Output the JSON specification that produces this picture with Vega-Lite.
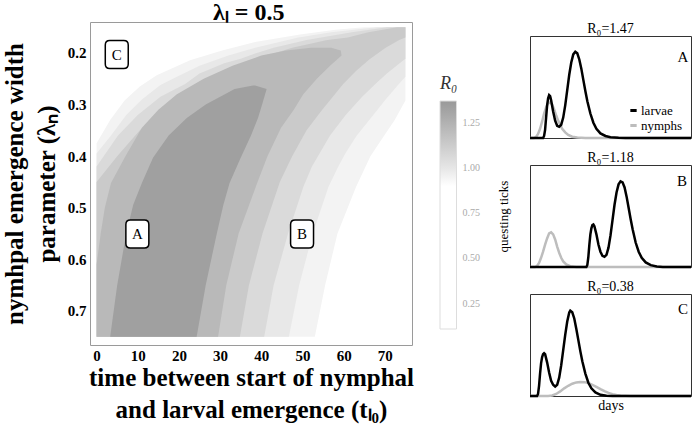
{
  "$schema": "https://vega.github.io/schema/vega-lite/v6.json",
  "autosize": {"type": "pad"},
  "padding": {"left": 1, "top": 0, "right": 2, "bottom": 2},
  "config": {
    "font": "Liberation Serif",
    "axis": {"grid": false, "labelFont": "Liberation Serif", "titleFont": "Liberation Serif"},
    "legend": {"labelFont": "Liberation Serif", "titleFont": "Liberation Serif"},
    "title": {"font": "Liberation Serif"},
    "view": {"stroke": null}
  },
  "title": {"text": "λₗ = 0.5", "anchor": "start", "align": "center", "dx": 247, "fontSize": 24, "fontWeight": "bold", "color": "black", "offset": -3},
  "datasets": {
    "bands": [
      {"level": 2, "lam": 0.15, "t": 65, "t2": 75},
      {"level": 2, "lam": 0.155, "t": 58, "t2": 75},
      {"level": 2, "lam": 0.164, "t": 49.4, "t2": 75},
      {"level": 2, "lam": 0.179, "t": 38.5, "t2": 75},
      {"level": 2, "lam": 0.195, "t": 30.5, "t2": 75},
      {"level": 2, "lam": 0.214, "t": 22.7, "t2": 75},
      {"level": 2, "lam": 0.243, "t": 14.6, "t2": 75},
      {"level": 2, "lam": 0.265, "t": 10.5, "t2": 75},
      {"level": 2, "lam": 0.292, "t": 6.8, "t2": 75},
      {"level": 2, "lam": 0.33, "t": 3.3, "t2": 72.4},
      {"level": 2, "lam": 0.375, "t": 0, "t2": 68.6},
      {"level": 2, "lam": 0.4, "t": 0, "t2": 66.5},
      {"level": 2, "lam": 0.46, "t": 0, "t2": 63},
      {"level": 2, "lam": 0.55, "t": 0, "t2": 58.5},
      {"level": 2, "lam": 0.65, "t": 0, "t2": 55.5},
      {"level": 2, "lam": 0.75, "t": 0, "t2": 53},
      {"level": 3, "lam": 0.15, "t": 68, "t2": 75},
      {"level": 3, "lam": 0.16, "t": 57, "t2": 75},
      {"level": 3, "lam": 0.17, "t": 49, "t2": 75},
      {"level": 3, "lam": 0.19, "t": 38.5, "t2": 75},
      {"level": 3, "lam": 0.205, "t": 32, "t2": 75},
      {"level": 3, "lam": 0.225, "t": 25, "t2": 75},
      {"level": 3, "lam": 0.246, "t": 19.5, "t2": 75},
      {"level": 3, "lam": 0.262, "t": 15.5, "t2": 73.2},
      {"level": 3, "lam": 0.29, "t": 11, "t2": 70.2},
      {"level": 3, "lam": 0.32, "t": 7.2, "t2": 67.2},
      {"level": 3, "lam": 0.36, "t": 3.5, "t2": 63.2},
      {"level": 3, "lam": 0.395, "t": 0, "t2": 60.4},
      {"level": 3, "lam": 0.42, "t": 0, "t2": 58.7},
      {"level": 3, "lam": 0.46, "t": 0, "t2": 56.3},
      {"level": 3, "lam": 0.55, "t": 0, "t2": 52.5},
      {"level": 3, "lam": 0.65, "t": 0, "t2": 49.2},
      {"level": 3, "lam": 0.75, "t": 0, "t2": 46.7},
      {"level": 4, "lam": 0.15, "t": 70.5, "t2": 75},
      {"level": 4, "lam": 0.16, "t": 62, "t2": 75},
      {"level": 4, "lam": 0.175, "t": 51, "t2": 75},
      {"level": 4, "lam": 0.19, "t": 43, "t2": 75},
      {"level": 4, "lam": 0.201, "t": 38.5, "t2": 75},
      {"level": 4, "lam": 0.211, "t": 35, "t2": 75},
      {"level": 4, "lam": 0.22, "t": 31, "t2": 73.6},
      {"level": 4, "lam": 0.24, "t": 25, "t2": 70.5},
      {"level": 4, "lam": 0.26, "t": 21.5, "t2": 67.7},
      {"level": 4, "lam": 0.285, "t": 15.5, "t2": 64.5},
      {"level": 4, "lam": 0.32, "t": 10, "t2": 60.5},
      {"level": 4, "lam": 0.36, "t": 5.2, "t2": 56.7},
      {"level": 4, "lam": 0.42, "t": 0, "t2": 52.3},
      {"level": 4, "lam": 0.46, "t": 0, "t2": 50.2},
      {"level": 4, "lam": 0.55, "t": 0, "t2": 46.5},
      {"level": 4, "lam": 0.65, "t": 0, "t2": 43},
      {"level": 4, "lam": 0.75, "t": 0, "t2": 40.7},
      {"level": 5, "lam": 0.15, "t": 73, "t2": 75},
      {"level": 5, "lam": 0.16, "t": 66, "t2": 75},
      {"level": 5, "lam": 0.17, "t": 61, "t2": 75},
      {"level": 5, "lam": 0.175, "t": 56, "t2": 73.5},
      {"level": 5, "lam": 0.19, "t": 47.5, "t2": 70.2},
      {"level": 5, "lam": 0.212, "t": 38.5, "t2": 66.3},
      {"level": 5, "lam": 0.235, "t": 31, "t2": 63},
      {"level": 5, "lam": 0.26, "t": 25, "t2": 59.9},
      {"level": 5, "lam": 0.31, "t": 16, "t2": 54.8},
      {"level": 5, "lam": 0.35, "t": 10.5, "t2": 51},
      {"level": 5, "lam": 0.4, "t": 5, "t2": 47.5},
      {"level": 5, "lam": 0.45, "t": 0, "t2": 44.5},
      {"level": 5, "lam": 0.55, "t": 0, "t2": 40.3},
      {"level": 5, "lam": 0.65, "t": 0, "t2": 37},
      {"level": 5, "lam": 0.75, "t": 0, "t2": 34.8},
      {"level": 6, "lam": 0.19, "t": 52, "t2": 57},
      {"level": 6, "lam": 0.195, "t": 46, "t2": 59.3},
      {"level": 6, "lam": 0.205, "t": 40, "t2": 59.5},
      {"level": 6, "lam": 0.225, "t": 33, "t2": 56.7},
      {"level": 6, "lam": 0.25, "t": 26, "t2": 53.5},
      {"level": 6, "lam": 0.28, "t": 19.5, "t2": 50.2},
      {"level": 6, "lam": 0.31, "t": 15, "t2": 47.9},
      {"level": 6, "lam": 0.345, "t": 11, "t2": 44.8},
      {"level": 6, "lam": 0.4, "t": 7, "t2": 41.5},
      {"level": 6, "lam": 0.452, "t": 3.5, "t2": 39},
      {"level": 6, "lam": 0.5, "t": 2, "t2": 36.8},
      {"level": 6, "lam": 0.55, "t": 1, "t2": 34.5},
      {"level": 6, "lam": 0.61, "t": 0, "t2": 32.7},
      {"level": 6, "lam": 0.65, "t": 0, "t2": 31.5},
      {"level": 6, "lam": 0.75, "t": 0, "t2": 29.5},
      {"level": 7, "lam": 0.263, "t": 38, "t2": 38.5},
      {"level": 7, "lam": 0.27, "t": 33.5, "t2": 41.3},
      {"level": 7, "lam": 0.278, "t": 31.6, "t2": 41},
      {"level": 7, "lam": 0.3, "t": 26.5, "t2": 40.2},
      {"level": 7, "lam": 0.326, "t": 21.9, "t2": 39.2},
      {"level": 7, "lam": 0.36, "t": 17.5, "t2": 37.5},
      {"level": 7, "lam": 0.403, "t": 13.7, "t2": 35},
      {"level": 7, "lam": 0.452, "t": 11, "t2": 32.3},
      {"level": 7, "lam": 0.494, "t": 8.9, "t2": 30.8},
      {"level": 7, "lam": 0.55, "t": 7.2, "t2": 29.2},
      {"level": 7, "lam": 0.65, "t": 5, "t2": 26.5},
      {"level": 7, "lam": 0.75, "t": 3.3, "t2": 24.3}
    ],
    "boxes": [
      {"label": "A", "t": 9.9, "lam": 0.551},
      {"label": "B", "t": 49.9, "lam": 0.551},
      {"label": "C", "t": 4.9, "lam": 0.203}
    ],
    "legendvals": [
      {"R0": 0.11, "t": 0, "lam": 0.75},
      {"R0": 1.37, "t": 0, "lam": 0.75}
    ],
    "letters": [
      {"panel": "A", "letter": "A", "day": 152, "ticks": 0.79},
      {"panel": "B", "letter": "B", "day": 151, "ticks": 0.84},
      {"panel": "C", "letter": "C", "day": 152, "ticks": 0.85}
    ],
    "curves": [
      {"panel": "A", "series": "nymphs", "day": 0, "ticks": 0},
      {"panel": "A", "series": "nymphs", "day": 4, "ticks": 0},
      {"panel": "A", "series": "nymphs", "day": 6, "ticks": 0.01},
      {"panel": "A", "series": "nymphs", "day": 8, "ticks": 0.04},
      {"panel": "A", "series": "nymphs", "day": 10, "ticks": 0.09},
      {"panel": "A", "series": "nymphs", "day": 12, "ticks": 0.16},
      {"panel": "A", "series": "nymphs", "day": 14, "ticks": 0.24},
      {"panel": "A", "series": "nymphs", "day": 16, "ticks": 0.3},
      {"panel": "A", "series": "nymphs", "day": 18, "ticks": 0.34},
      {"panel": "A", "series": "nymphs", "day": 20, "ticks": 0.35},
      {"panel": "A", "series": "nymphs", "day": 22, "ticks": 0.33},
      {"panel": "A", "series": "nymphs", "day": 24, "ticks": 0.28},
      {"panel": "A", "series": "nymphs", "day": 26, "ticks": 0.22},
      {"panel": "A", "series": "nymphs", "day": 28, "ticks": 0.17},
      {"panel": "A", "series": "nymphs", "day": 30, "ticks": 0.13},
      {"panel": "A", "series": "nymphs", "day": 32, "ticks": 0.09},
      {"panel": "A", "series": "nymphs", "day": 35, "ticks": 0.055},
      {"panel": "A", "series": "nymphs", "day": 38, "ticks": 0.03},
      {"panel": "A", "series": "nymphs", "day": 42, "ticks": 0.013},
      {"panel": "A", "series": "nymphs", "day": 47, "ticks": 0.004},
      {"panel": "A", "series": "nymphs", "day": 55, "ticks": 0},
      {"panel": "A", "series": "nymphs", "day": 160, "ticks": 0},
      {"panel": "A", "series": "larvae", "day": 0, "ticks": 0},
      {"panel": "A", "series": "larvae", "day": 13, "ticks": 0},
      {"panel": "A", "series": "larvae", "day": 14, "ticks": 0.02},
      {"panel": "A", "series": "larvae", "day": 15, "ticks": 0.08},
      {"panel": "A", "series": "larvae", "day": 16, "ticks": 0.2},
      {"panel": "A", "series": "larvae", "day": 17, "ticks": 0.32},
      {"panel": "A", "series": "larvae", "day": 18, "ticks": 0.39},
      {"panel": "A", "series": "larvae", "day": 19, "ticks": 0.42},
      {"panel": "A", "series": "larvae", "day": 20, "ticks": 0.41},
      {"panel": "A", "series": "larvae", "day": 21, "ticks": 0.37},
      {"panel": "A", "series": "larvae", "day": 23, "ticks": 0.26},
      {"panel": "A", "series": "larvae", "day": 25, "ticks": 0.17},
      {"panel": "A", "series": "larvae", "day": 27, "ticks": 0.12},
      {"panel": "A", "series": "larvae", "day": 29, "ticks": 0.11},
      {"panel": "A", "series": "larvae", "day": 31, "ticks": 0.13},
      {"panel": "A", "series": "larvae", "day": 33, "ticks": 0.2},
      {"panel": "A", "series": "larvae", "day": 35, "ticks": 0.32},
      {"panel": "A", "series": "larvae", "day": 37, "ticks": 0.47},
      {"panel": "A", "series": "larvae", "day": 39, "ticks": 0.62},
      {"panel": "A", "series": "larvae", "day": 41, "ticks": 0.74},
      {"panel": "A", "series": "larvae", "day": 43, "ticks": 0.82},
      {"panel": "A", "series": "larvae", "day": 45, "ticks": 0.845},
      {"panel": "A", "series": "larvae", "day": 47, "ticks": 0.83},
      {"panel": "A", "series": "larvae", "day": 49, "ticks": 0.77},
      {"panel": "A", "series": "larvae", "day": 51, "ticks": 0.68},
      {"panel": "A", "series": "larvae", "day": 53, "ticks": 0.57},
      {"panel": "A", "series": "larvae", "day": 55, "ticks": 0.46},
      {"panel": "A", "series": "larvae", "day": 57, "ticks": 0.36},
      {"panel": "A", "series": "larvae", "day": 60, "ticks": 0.24},
      {"panel": "A", "series": "larvae", "day": 63, "ticks": 0.15},
      {"panel": "A", "series": "larvae", "day": 66, "ticks": 0.09},
      {"panel": "A", "series": "larvae", "day": 70, "ticks": 0.045},
      {"panel": "A", "series": "larvae", "day": 75, "ticks": 0.02},
      {"panel": "A", "series": "larvae", "day": 80, "ticks": 0.008},
      {"panel": "A", "series": "larvae", "day": 88, "ticks": 0.002},
      {"panel": "A", "series": "larvae", "day": 95, "ticks": 0},
      {"panel": "A", "series": "larvae", "day": 160, "ticks": 0},
      {"panel": "B", "series": "nymphs", "day": 0, "ticks": 0},
      {"panel": "B", "series": "nymphs", "day": 5, "ticks": 0},
      {"panel": "B", "series": "nymphs", "day": 7, "ticks": 0.01},
      {"panel": "B", "series": "nymphs", "day": 9, "ticks": 0.04},
      {"panel": "B", "series": "nymphs", "day": 11, "ticks": 0.09},
      {"panel": "B", "series": "nymphs", "day": 13, "ticks": 0.15},
      {"panel": "B", "series": "nymphs", "day": 15, "ticks": 0.22},
      {"panel": "B", "series": "nymphs", "day": 17, "ticks": 0.28},
      {"panel": "B", "series": "nymphs", "day": 19, "ticks": 0.33},
      {"panel": "B", "series": "nymphs", "day": 21, "ticks": 0.34},
      {"panel": "B", "series": "nymphs", "day": 23, "ticks": 0.32},
      {"panel": "B", "series": "nymphs", "day": 25, "ticks": 0.27},
      {"panel": "B", "series": "nymphs", "day": 27, "ticks": 0.2},
      {"panel": "B", "series": "nymphs", "day": 29, "ticks": 0.14},
      {"panel": "B", "series": "nymphs", "day": 31, "ticks": 0.09},
      {"panel": "B", "series": "nymphs", "day": 33, "ticks": 0.055},
      {"panel": "B", "series": "nymphs", "day": 36, "ticks": 0.025},
      {"panel": "B", "series": "nymphs", "day": 40, "ticks": 0.008},
      {"panel": "B", "series": "nymphs", "day": 46, "ticks": 0},
      {"panel": "B", "series": "nymphs", "day": 160, "ticks": 0},
      {"panel": "B", "series": "larvae", "day": 0, "ticks": 0},
      {"panel": "B", "series": "larvae", "day": 56, "ticks": 0},
      {"panel": "B", "series": "larvae", "day": 57, "ticks": 0.02},
      {"panel": "B", "series": "larvae", "day": 58, "ticks": 0.1},
      {"panel": "B", "series": "larvae", "day": 59, "ticks": 0.22},
      {"panel": "B", "series": "larvae", "day": 60, "ticks": 0.32},
      {"panel": "B", "series": "larvae", "day": 61, "ticks": 0.38},
      {"panel": "B", "series": "larvae", "day": 62, "ticks": 0.41},
      {"panel": "B", "series": "larvae", "day": 63, "ticks": 0.416},
      {"panel": "B", "series": "larvae", "day": 64, "ticks": 0.4},
      {"panel": "B", "series": "larvae", "day": 66, "ticks": 0.32},
      {"panel": "B", "series": "larvae", "day": 68, "ticks": 0.22},
      {"panel": "B", "series": "larvae", "day": 70, "ticks": 0.15},
      {"panel": "B", "series": "larvae", "day": 72, "ticks": 0.11},
      {"panel": "B", "series": "larvae", "day": 74, "ticks": 0.1},
      {"panel": "B", "series": "larvae", "day": 76, "ticks": 0.12},
      {"panel": "B", "series": "larvae", "day": 78, "ticks": 0.19},
      {"panel": "B", "series": "larvae", "day": 80, "ticks": 0.31},
      {"panel": "B", "series": "larvae", "day": 82, "ticks": 0.46},
      {"panel": "B", "series": "larvae", "day": 84, "ticks": 0.61},
      {"panel": "B", "series": "larvae", "day": 86, "ticks": 0.73},
      {"panel": "B", "series": "larvae", "day": 88, "ticks": 0.81},
      {"panel": "B", "series": "larvae", "day": 90, "ticks": 0.84},
      {"panel": "B", "series": "larvae", "day": 92, "ticks": 0.83},
      {"panel": "B", "series": "larvae", "day": 94, "ticks": 0.78},
      {"panel": "B", "series": "larvae", "day": 96, "ticks": 0.69},
      {"panel": "B", "series": "larvae", "day": 98, "ticks": 0.58},
      {"panel": "B", "series": "larvae", "day": 100, "ticks": 0.47},
      {"panel": "B", "series": "larvae", "day": 102, "ticks": 0.37},
      {"panel": "B", "series": "larvae", "day": 105, "ticks": 0.24},
      {"panel": "B", "series": "larvae", "day": 108, "ticks": 0.15},
      {"panel": "B", "series": "larvae", "day": 111, "ticks": 0.09},
      {"panel": "B", "series": "larvae", "day": 115, "ticks": 0.045},
      {"panel": "B", "series": "larvae", "day": 120, "ticks": 0.018},
      {"panel": "B", "series": "larvae", "day": 126, "ticks": 0.006},
      {"panel": "B", "series": "larvae", "day": 132, "ticks": 0.001},
      {"panel": "B", "series": "larvae", "day": 140, "ticks": 0},
      {"panel": "B", "series": "larvae", "day": 160, "ticks": 0},
      {"panel": "C", "series": "nymphs", "day": 0, "ticks": 0},
      {"panel": "C", "series": "nymphs", "day": 18, "ticks": 0},
      {"panel": "C", "series": "nymphs", "day": 22, "ticks": 0.005},
      {"panel": "C", "series": "nymphs", "day": 26, "ticks": 0.02},
      {"panel": "C", "series": "nymphs", "day": 30, "ticks": 0.045},
      {"panel": "C", "series": "nymphs", "day": 34, "ticks": 0.075},
      {"panel": "C", "series": "nymphs", "day": 38, "ticks": 0.1},
      {"panel": "C", "series": "nymphs", "day": 42, "ticks": 0.12},
      {"panel": "C", "series": "nymphs", "day": 46, "ticks": 0.133},
      {"panel": "C", "series": "nymphs", "day": 50, "ticks": 0.138},
      {"panel": "C", "series": "nymphs", "day": 54, "ticks": 0.136},
      {"panel": "C", "series": "nymphs", "day": 58, "ticks": 0.127},
      {"panel": "C", "series": "nymphs", "day": 62, "ticks": 0.11},
      {"panel": "C", "series": "nymphs", "day": 66, "ticks": 0.09},
      {"panel": "C", "series": "nymphs", "day": 70, "ticks": 0.068},
      {"panel": "C", "series": "nymphs", "day": 74, "ticks": 0.048},
      {"panel": "C", "series": "nymphs", "day": 78, "ticks": 0.031},
      {"panel": "C", "series": "nymphs", "day": 82, "ticks": 0.018},
      {"panel": "C", "series": "nymphs", "day": 86, "ticks": 0.01},
      {"panel": "C", "series": "nymphs", "day": 90, "ticks": 0.005},
      {"panel": "C", "series": "nymphs", "day": 95, "ticks": 0.002},
      {"panel": "C", "series": "nymphs", "day": 100, "ticks": 0},
      {"panel": "C", "series": "nymphs", "day": 160, "ticks": 0},
      {"panel": "C", "series": "larvae", "day": 0, "ticks": 0},
      {"panel": "C", "series": "larvae", "day": 7, "ticks": 0},
      {"panel": "C", "series": "larvae", "day": 8, "ticks": 0.02},
      {"panel": "C", "series": "larvae", "day": 9, "ticks": 0.1},
      {"panel": "C", "series": "larvae", "day": 10, "ticks": 0.22},
      {"panel": "C", "series": "larvae", "day": 11, "ticks": 0.32},
      {"panel": "C", "series": "larvae", "day": 12, "ticks": 0.38},
      {"panel": "C", "series": "larvae", "day": 13, "ticks": 0.41},
      {"panel": "C", "series": "larvae", "day": 14, "ticks": 0.42},
      {"panel": "C", "series": "larvae", "day": 15, "ticks": 0.41},
      {"panel": "C", "series": "larvae", "day": 17, "ticks": 0.33},
      {"panel": "C", "series": "larvae", "day": 19, "ticks": 0.23},
      {"panel": "C", "series": "larvae", "day": 21, "ticks": 0.15},
      {"panel": "C", "series": "larvae", "day": 23, "ticks": 0.11},
      {"panel": "C", "series": "larvae", "day": 25, "ticks": 0.092},
      {"panel": "C", "series": "larvae", "day": 27, "ticks": 0.11},
      {"panel": "C", "series": "larvae", "day": 29, "ticks": 0.18},
      {"panel": "C", "series": "larvae", "day": 31, "ticks": 0.3},
      {"panel": "C", "series": "larvae", "day": 33, "ticks": 0.45},
      {"panel": "C", "series": "larvae", "day": 35, "ticks": 0.6},
      {"panel": "C", "series": "larvae", "day": 37, "ticks": 0.73},
      {"panel": "C", "series": "larvae", "day": 39, "ticks": 0.82},
      {"panel": "C", "series": "larvae", "day": 40, "ticks": 0.836},
      {"panel": "C", "series": "larvae", "day": 42, "ticks": 0.82},
      {"panel": "C", "series": "larvae", "day": 44, "ticks": 0.76},
      {"panel": "C", "series": "larvae", "day": 46, "ticks": 0.66},
      {"panel": "C", "series": "larvae", "day": 48, "ticks": 0.55},
      {"panel": "C", "series": "larvae", "day": 50, "ticks": 0.44},
      {"panel": "C", "series": "larvae", "day": 52, "ticks": 0.34},
      {"panel": "C", "series": "larvae", "day": 55, "ticks": 0.22},
      {"panel": "C", "series": "larvae", "day": 58, "ticks": 0.13},
      {"panel": "C", "series": "larvae", "day": 61, "ticks": 0.075},
      {"panel": "C", "series": "larvae", "day": 65, "ticks": 0.035},
      {"panel": "C", "series": "larvae", "day": 70, "ticks": 0.012},
      {"panel": "C", "series": "larvae", "day": 76, "ticks": 0.003},
      {"panel": "C", "series": "larvae", "day": 82, "ticks": 0},
      {"panel": "C", "series": "larvae", "day": 160, "ticks": 0}
    ]
  },
  "columns": 2,
  "align": "none",
  "spacing": 82,
  "concat": [
    {
      "width": 322,
      "height": 323,
      "view": {"stroke": "#9a9a9a", "strokeWidth": 1},
      "encoding": {
        "x": {
          "field": "t", "type": "quantitative",
          "scale": {"domain": [-1.6, 76.6], "nice": false, "zero": false},
          "axis": {
            "values": [0, 10, 20, 30, 40, 50, 60, 70],
            "title": ["time between start of nymphal", "and larval emergence (tₗ₀)"],
            "ticks": false, "domain": false, "grid": false,
            "labelFontSize": 15, "labelFontWeight": "bold", "labelColor": "black", "labelPadding": 3,
            "titleFontSize": 25, "titleFontWeight": "bold", "titleColor": "black", "titleLineHeight": 32, "titlePadding": 2
          }
        },
        "y": {
          "field": "lam", "type": "quantitative",
          "scale": {"domain": [0.14, 0.766], "reverse": true, "nice": false, "zero": false},
          "axis": {
            "values": [0.2, 0.3, 0.4, 0.5, 0.6, 0.7], "format": ".1f",
            "title": ["nymhpal emergence width", "parameter (λₙ)"],
            "ticks": false, "domain": false, "grid": false,
            "labelFontSize": 15, "labelFontWeight": "bold", "labelColor": "black", "labelPadding": 4,
            "titleFontSize": 25, "titleFontWeight": "bold", "titleColor": "black", "titleLineHeight": 32, "titlePadding": 8
          }
        }
      },
      "layer": [
        {
          "data": {"name": "bands"},
          "mark": {"type": "area", "orient": "horizontal"},
          "encoding": {
            "x2": {"field": "t2"},
            "fill": {"field": "level", "type": "ordinal",
              "scale": {"domain": [2, 3, 4, 5, 6, 7], "range": ["#f3f3f3", "#e8e8e8", "#dadada", "#cacaca", "#b9b9b9", "#a0a0a0"]},
              "legend": null}
          }
        },
        {
          "data": {"name": "legendvals"},
          "mark": {"type": "point", "opacity": 0},
          "encoding": {
            "color": {"field": "R0", "type": "quantitative",
              "scale": {"domain": [0.11, 0.999, 1.0, 1.37], "range": ["#ffffff", "#ffffff", "#e6e6e6", "#999999"]},
              "legend": {
                "orient": "none", "legendX": 350, "legendY": 53, "direction": "vertical",
                "title": "R₀", "titleFontSize": 18, "titleFontStyle": "italic", "titleFontWeight": "normal", "titleColor": "#333333", "titlePadding": 8,
                "gradientLength": 228, "gradientThickness": 16.5, "gradientStrokeColor": "#dddddd", "gradientStrokeWidth": 1,
                "values": [0.25, 0.5, 0.75, 1.0, 1.25], "format": ".2f", "labelOverlap": false,
                "labelFontSize": 10, "labelColor": "#aaaaaa", "labelOffset": 6
              }
            }
          }
        },
        {
          "data": {"name": "boxes"},
          "mark": {"type": "point", "shape": "M-0.5,-1L0.5,-1Q0.82,-1 0.82,-0.68L0.82,0.68Q0.82,1 0.5,1L-0.5,1Q-0.82,1 -0.82,0.68L-0.82,-0.68Q-0.82,-1 -0.5,-1Z", "size": 784, "filled": true, "fill": "white", "stroke": "black", "strokeWidth": 1.5, "opacity": 1}
        },
        {
          "data": {"name": "boxes"},
          "mark": {"type": "text", "fontSize": 15, "color": "black", "align": "center", "baseline": "middle", "font": "Liberation Serif"},
          "encoding": {"text": {"field": "label"}}
        }
      ]
    },
    {
      "spacing": -2,
      "vconcat": [
        {
          "width": 161, "height": 1,
          "view": {"stroke": null},
          "data": {"values": [{"spacer": 0}]},
          "mark": {"type": "point", "opacity": 0, "size": 1}
        },
        {
          "spacing": 6,
          "resolve": {"scale": {"stroke": "independent"}, "legend": {"stroke": "independent"}},
          "vconcat": [
            {
              "width": 161, "height": 102,
              "title": {"text": "R₀=1.47", "fontSize": 14, "fontWeight": "normal", "color": "black", "offset": 0},
              "view": {"stroke": "#333333"},
              "encoding": {
                "x": {"field": "day", "type": "quantitative", "scale": {"domain": [0, 160], "nice": false}, "axis": null},
                "y": {"field": "ticks", "type": "quantitative", "scale": {"domain": [0, 1], "nice": false},
                  "axis": {"title": "questing ticks", "labels": false, "ticks": false, "domain": false, "grid": false, "titleFontSize": 13, "titleFontWeight": "normal", "titleColor": "black", "titleOpacity": 0, "titlePadding": 20}}
              },
              "layer": [
                {
                  "data": {"name": "curves"},
                  "transform": [{"filter": "datum.panel === 'A' && datum.series === 'nymphs'"}],
                  "mark": {"type": "line", "strokeWidth": 2.5},
                  "encoding": {"stroke": {"field": "series", "type": "nominal", "scale": {"domain": ["larvae", "nymphs"], "range": ["#000000", "#bdbdbd"]},
                    "legend": {"orient": "none", "legendX": 97, "legendY": 68, "title": null, "symbolType": "stroke", "symbolStrokeWidth": 3, "symbolSize": 40, "labelFontSize": 13, "labelColor": "black", "labelFont": "Liberation Serif", "rowPadding": 1, "padding": 0, "labelOffset": 1}}}
                },
                {
                  "data": {"name": "curves"},
                  "transform": [{"filter": "datum.panel === 'A' && datum.series === 'larvae'"}],
                  "mark": {"type": "line", "strokeWidth": 2.5},
                  "encoding": {"stroke": {"field": "series", "type": "nominal", "scale": {"domain": ["larvae", "nymphs"], "range": ["#000000", "#bdbdbd"]},
                    "legend": {"orient": "none", "legendX": 97, "legendY": 68, "title": null, "symbolType": "stroke", "symbolStrokeWidth": 3, "symbolSize": 40, "labelFontSize": 13, "labelColor": "black", "labelFont": "Liberation Serif", "rowPadding": 1, "padding": 0, "labelOffset": 1}}}
                },
                {
                  "data": {"name": "letters"},
                  "transform": [{"filter": "datum.panel === 'A'"}],
                  "mark": {"type": "text", "fontSize": 15, "color": "black", "align": "center", "baseline": "middle", "font": "Liberation Serif"},
                  "encoding": {"text": {"field": "letter"}}
                }
              ]
            },
            {
              "width": 161, "height": 102,
              "title": {"text": "R₀=1.18", "fontSize": 14, "fontWeight": "normal", "color": "black", "offset": 0},
              "view": {"stroke": "#333333"},
              "encoding": {
                "x": {"field": "day", "type": "quantitative", "scale": {"domain": [0, 160], "nice": false}, "axis": null},
                "y": {"field": "ticks", "type": "quantitative", "scale": {"domain": [0, 1], "nice": false},
                  "axis": {"title": "questing ticks", "labels": false, "ticks": false, "domain": false, "grid": false, "titleFontSize": 13, "titleFontWeight": "normal", "titleColor": "black", "titlePadding": 20}}
              },
              "layer": [
                {
                  "data": {"name": "curves"},
                  "transform": [{"filter": "datum.panel === 'B' && datum.series === 'nymphs'"}],
                  "mark": {"type": "line", "strokeWidth": 2.5},
                  "encoding": {"stroke": {"field": "series", "type": "nominal", "scale": {"domain": ["larvae", "nymphs"], "range": ["#000000", "#bdbdbd"]}, "legend": null}}
                },
                {
                  "data": {"name": "curves"},
                  "transform": [{"filter": "datum.panel === 'B' && datum.series === 'larvae'"}],
                  "mark": {"type": "line", "strokeWidth": 2.5},
                  "encoding": {"stroke": {"field": "series", "type": "nominal", "scale": {"domain": ["larvae", "nymphs"], "range": ["#000000", "#bdbdbd"]}, "legend": null}}
                },
                {
                  "data": {"name": "letters"},
                  "transform": [{"filter": "datum.panel === 'B'"}],
                  "mark": {"type": "text", "fontSize": 15, "color": "black", "align": "center", "baseline": "middle", "font": "Liberation Serif"},
                  "encoding": {"text": {"field": "letter"}}
                }
              ]
            },
            {
              "width": 161, "height": 102,
              "title": {"text": "R₀=0.38", "fontSize": 14, "fontWeight": "normal", "color": "black", "offset": 0},
              "view": {"stroke": "#333333"},
              "encoding": {
                "x": {"field": "day", "type": "quantitative", "scale": {"domain": [0, 160], "nice": false},
                  "axis": {"title": "days", "labels": false, "ticks": false, "domain": false, "grid": false, "titleFontSize": 14, "titleFontWeight": "normal", "titleColor": "black", "titlePadding": 2}},
                "y": {"field": "ticks", "type": "quantitative", "scale": {"domain": [0, 1], "nice": false},
                  "axis": {"title": "questing ticks", "labels": false, "ticks": false, "domain": false, "grid": false, "titleFontSize": 13, "titleFontWeight": "normal", "titleColor": "black", "titleOpacity": 0, "titlePadding": 20}}
              },
              "layer": [
                {
                  "data": {"name": "curves"},
                  "transform": [{"filter": "datum.panel === 'C' && datum.series === 'nymphs'"}],
                  "mark": {"type": "line", "strokeWidth": 2.5},
                  "encoding": {"stroke": {"field": "series", "type": "nominal", "scale": {"domain": ["larvae", "nymphs"], "range": ["#000000", "#bdbdbd"]}, "legend": null}}
                },
                {
                  "data": {"name": "curves"},
                  "transform": [{"filter": "datum.panel === 'C' && datum.series === 'larvae'"}],
                  "mark": {"type": "line", "strokeWidth": 2.5},
                  "encoding": {"stroke": {"field": "series", "type": "nominal", "scale": {"domain": ["larvae", "nymphs"], "range": ["#000000", "#bdbdbd"]}, "legend": null}}
                },
                {
                  "data": {"name": "letters"},
                  "transform": [{"filter": "datum.panel === 'C'"}],
                  "mark": {"type": "text", "fontSize": 15, "color": "black", "align": "center", "baseline": "middle", "font": "Liberation Serif"},
                  "encoding": {"text": {"field": "letter"}}
                }
              ]
            }
          ]
        }
      ]
    }
  ]
}
